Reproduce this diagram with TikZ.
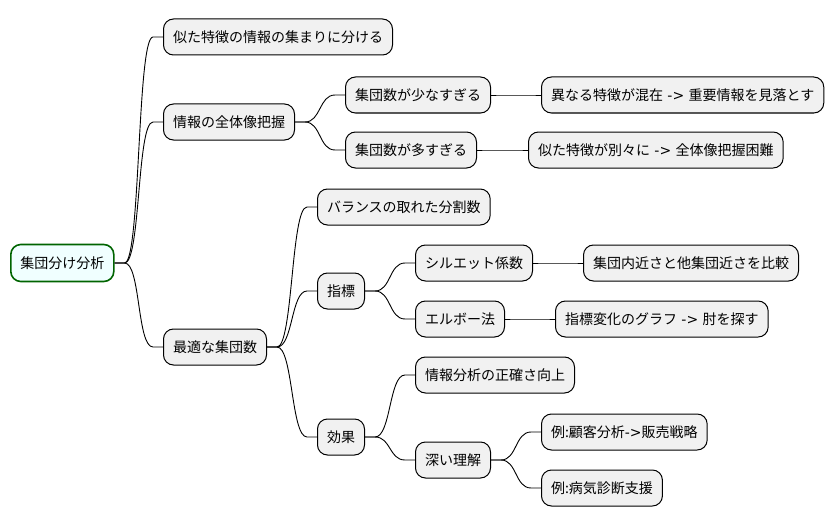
\documentclass[tikz,border=0pt]{standalone}
\usepackage{fontspec}
\setmainfont{Noto Sans CJK JP}
\newfontfamily\mmLatin{DejaVu Sans}
\usepackage{tikz}
\usetikzlibrary{calc,positioning}
\definecolor{mmGreen}{HTML}{006400}
\definecolor{mmAzure}{HTML}{F0FFFF}
\definecolor{mmGray}{HTML}{F1F1F1}
\newcommand{\mmArrow}{{\mmLatin ->}}
\tikzset{
  mmRoot/.style={draw=mmGreen, fill=mmAzure, line width=1.6pt, rounded corners=10pt,
    minimum height=37pt, inner xsep=9.5pt, anchor=west,
    font=\fontsize{14}{16}\selectfont},
  mmTopic/.style={draw=black, fill=mmGray, line width=1pt, rounded corners=10pt,
    minimum height=36pt, inner xsep=9.5pt, anchor=west,
    font=\fontsize{14}{16}\selectfont},
  %% Branch connectors
  mmEdge/.style={draw=black, line width=0.9pt,
    to path={-- ++(10,0) .. controls +(16,0) and +(-16,0) .. ($(\tikztotarget)+(-10,0)$) -- (\tikztotarget)}},
}
\begin{document}
\begin{tikzpicture}[x=1pt, y=-1pt]
\useasboundingbox (0,0) rectangle (836,527);
%% Root
\node[mmRoot]  (root)   at ( 10,263) {集団分け分析};

%% First level
\node[mmTopic] (tGroup) at (163, 37) {似た特徴の情報の集まりに分ける};
\node[mmTopic] (tWhole) at (163,122) {情報の全体像把握};
\node[mmTopic] (tBest)  at (163,347) {最適な集団数};

%% Whole picture
\node[mmTopic] (tFew)     at (345, 95) {集団数が少なすぎる};
\node[mmTopic] (tFewRes)  at (541, 95) {異なる特徴が混在{\mmLatin\ -> }重要情報を見落とす};
\node[mmTopic] (tMany)    at (345,150) {集団数が多すぎる};
\node[mmTopic] (tManyRes) at (528,150) {似た特徴が別々に{\mmLatin\ -> }全体像把握困難};

%% Best number of groups
\node[mmTopic] (tBalance) at (317,207) {バランスの取れた分割数};
\node[mmTopic] (tIndex)   at (317,291) {指標};
\node[mmTopic] (tSil)     at (415,263) {シルエット係数};
\node[mmTopic] (tSilRes)  at (583,263) {集団内近さと他集団近さを比較};
\node[mmTopic] (tElbow)   at (415,319) {エルボー法};
\node[mmTopic] (tElbowRes) at (555,319) {指標変化のグラフ{\mmLatin\ -> }肘を探す};
\node[mmTopic] (tEffect)  at (317,437) {効果};
\node[mmTopic] (tAccur)   at (415,375) {情報分析の正確さ向上};
\node[mmTopic] (tDeep)    at (415,460) {深い理解};
\node[mmTopic] (tEx1)     at (541,432) {例:顧客分析\mmArrow 販売戦略};
\node[mmTopic] (tEx2)     at (541,488) {例:病気診断支援};

%% Connectors
\foreach \a/\b in {root/tGroup, root/tWhole, root/tBest,
    tWhole/tFew, tWhole/tMany, tFew/tFewRes, tMany/tManyRes,
    tBest/tBalance, tBest/tIndex, tBest/tEffect,
    tIndex/tSil, tIndex/tElbow, tSil/tSilRes, tElbow/tElbowRes,
    tEffect/tAccur, tEffect/tDeep, tDeep/tEx1, tDeep/tEx2}
  \draw[mmEdge] (\a.east) to (\b.west);
\end{tikzpicture}
\end{document}
